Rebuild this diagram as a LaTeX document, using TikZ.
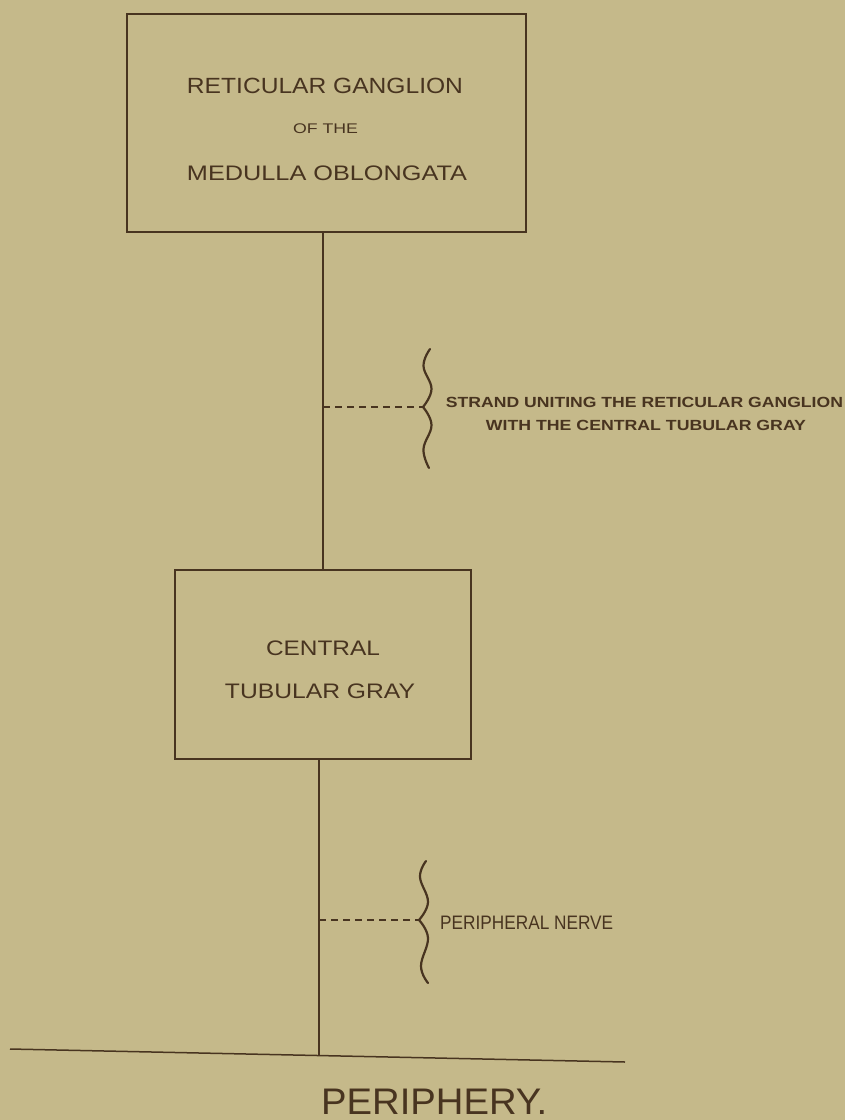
\documentclass[tikz,border=0pt]{standalone}
\usepackage{fontspec}
\setmainfont{Liberation Sans}
\usepackage{graphicx}
\definecolor{paper}{RGB}{197,185,138}
\definecolor{ink}{RGB}{72,52,32}
\newcommand\fitw[2]{\resizebox{#1pt}{\height}{#2}}
\newcommand\fsz[1]{\fontsize{#1pt}{#1pt}\selectfont}
\begin{document}
\begin{tikzpicture}[x=1pt,y=-1pt,
  box/.style={draw=ink, line width=1.7pt, inner sep=0pt},
  lbl/.style={text=ink, inner sep=0pt, anchor=base},
  wire/.style={draw=ink, line width=1.5pt},
  dashwire/.style={draw=ink, line width=1.2pt, dash pattern=on 7pt off 5pt},
  bracepath/.style={draw=ink, line width=2.2pt, line cap=round}]
\useasboundingbox (0,0) rectangle (845,1120);
\fill[paper] (0,0) rectangle (845,1120);

% boxes
\node[box, minimum width=399pt, minimum height=218pt] (b1) at (326.5,123) {};
\node[box, minimum width=296pt, minimum height=189pt] (b2) at (323,664.5) {};

% box texts
\node[lbl] (t1) at (325,93) {\fsz{22}\fitw{276}{RETICULAR GANGLION}};
\node[lbl] (t2) at (325.5,133) {\fsz{14}\fitw{65}{OF THE}};
\node[lbl] (t3) at (327,180) {\fsz{21}\fitw{280}{MEDULLA OBLONGATA}};
\node[lbl] (t4) at (323,655) {\fsz{21}\fitw{114}{CENTRAL}};
\node[lbl] (t5) at (320,698) {\fsz{21}\fitw{190}{TUBULAR GRAY}};

% baseline (periphery)
\coordinate (bl) at (10,1049);
\coordinate (br) at (625,1062);
\coordinate (foot) at (319,1055.5);
\draw[wire] (bl) -- (br);

% connectors
\draw[wire] (b1.south -| b2.north) -- (b2.north);
\draw[wire] (b2.south -| foot) -- (foot);

% strand brace and dashes
\coordinate (d1a) at (323,407);
\coordinate (d1b) at (423,407);
\draw[dashwire] (d1a) -- (d1b);
\draw[bracepath] plot[smooth, tension=0.7] coordinates {(430,349) (423.5,366) (431.5,389) (423,407)};
\draw[bracepath] plot[smooth, tension=0.7] coordinates {(423,407) (431.5,425) (423.5,449) (429,468)};
\node[lbl] (s1) at (644.5,407) {\fsz{14.7}\bfseries\fitw{397}{STRAND UNITING THE RETICULAR GANGLION}};
\node[lbl] (s2) at (646,430) {\fsz{14.7}\bfseries\fitw{320}{WITH THE CENTRAL TUBULAR GRAY}};

% peripheral nerve brace and dashes
\coordinate (d2a) at (319,920);
\coordinate (d2b) at (419,920);
\draw[dashwire] (d2a) -- (d2b);
\draw[bracepath] plot[smooth, tension=0.7] coordinates {(426,861) (420,877) (428,902) (419,920)};
\draw[bracepath] plot[smooth, tension=0.7] coordinates {(419,920) (428,938) (421,966) (428,983)};
\node[lbl, anchor=base west] (pn) at (440,929) {\fsz{19.5}\fitw{173}{PERIPHERAL NERVE}};

% periphery label
\node[lbl, anchor=base west] (pe) at (321,1114) {\fsz{37}\fitw{226}{PERIPHERY.}};
\end{tikzpicture}
\end{document}
